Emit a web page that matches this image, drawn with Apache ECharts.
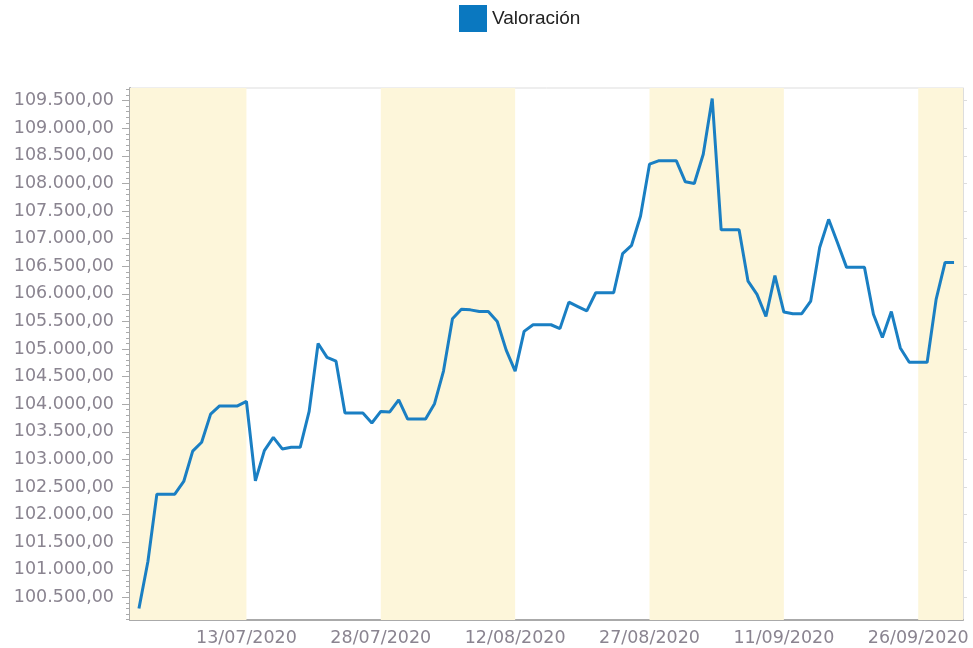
<!DOCTYPE html>
<html>
<head>
<meta charset="utf-8">
<script src="https://cdn.jsdelivr.net/npm/echarts@6/dist/echarts.min.js"></script>
<style>
  html, body { margin: 0; padding: 0; background: #fff; }
  #chart { width: 973px; height: 648px; }
</style>
</head>
<body>
<div id="chart"></div>
<script>
// daily values from 01/07/2020 to 30/09/2020
const startDay = [2020, 6, 1]
const valoracion = [
  100300, 101150, 102370, 102370, 102370, 102600, 103150, 103310, 103820, 103970,
  103970, 103970, 104050, 102610, 103160, 103400, 103190, 103220, 103220, 103870,
  105100, 104850, 104780, 103840, 103840, 103840, 103660, 103870, 103860, 104080,
  103730,
  103730, 103730, 104010, 104600, 105550, 105720, 105710, 105680, 105680, 105500,
  104980, 104600, 105320, 105440, 105440, 105440, 105370, 105850, 105770, 105690,
  106020, 106020, 106020, 106730, 106880, 107410, 108350, 108410, 108410, 108410,
  108030,
  108000, 108530, 109540, 107160, 107160, 107160, 106230, 105990, 105590, 106330,
  105670, 105640, 105640, 105870, 106840, 107350, 106920, 106480, 106480, 106480,
  105630, 105210, 105680, 105020, 104760, 104760, 104760, 105900, 106570, 106570
]

const xTickDates = [[2020, 6, 13], [2020, 6, 28], [2020, 7, 12], [2020, 7, 27], [2020, 8, 11], [2020, 8, 26]]
const bands = [
  [[2020, 5, 30], [2020, 6, 13]],
  [[2020, 6, 28], [2020, 7, 12]],
  [[2020, 7, 27], [2020, 8, 11]],
  [[2020, 8, 26], [2020, 9, 1]]
]
const yLabels = [100500, 101000, 101500, 102000, 102500, 103000, 103500, 104000, 104500,
  105000, 105500, 106000, 106500, 107000, 107500, 108000, 108500, 109000, 109500]
const yMin = 100090
const yMax = 109730

const ts = d => +new Date(d[0], d[1], d[2])

const seriesData = valoracion.map((v, i) =>
  [+new Date(startDay[0], startDay[1], startDay[2] + i), v])

const minorTicks = []
for (let v = 100100; v <= 109700; v += 100) minorTicks.push(v)

const fmtNum = v => {
  const s = String(Math.round(v))
  return s.slice(0, s.length - 3) + '.' + s.slice(-3) + ',00'
}
const pad = n => (n < 10 ? '0' : '') + n
const fmtDate = v => {
  const d = new Date(v)
  return pad(d.getDate()) + '/' + pad(d.getMonth() + 1) + '/' + d.getFullYear()
}

const labelStyle = { color: '#8a8490', fontFamily: 'DejaVu Sans', fontSize: 17.5 }

const chart = echarts.init(document.getElementById('chart'))
chart.setOption({
  animation: false,
  backgroundColor: '#fff',
  legend: {
    left: 454, top: 0,
    icon: 'rect', itemWidth: 28, itemHeight: 27, itemGap: 4,
    textStyle: { color: '#222', fontFamily: 'Liberation Sans', fontSize: 19 },
    data: ['Valoración']
  },
  grid: {
    left: 130, right: 10, top: 88, bottom: 28,
    show: true, borderColor: '#dddddd', borderWidth: 1
  },
  xAxis: {
    type: 'value',
    min: ts([2020, 5, 30]), max: ts([2020, 9, 1]),
    axisLine: { lineStyle: { color: '#aaaaaa', width: 2 } },
    axisTick: { show: false },
    splitLine: { show: false },
    axisLabel: Object.assign({
      customValues: xTickDates.map(ts),
      margin: 9,
      formatter: fmtDate
    }, labelStyle)
  },
  yAxis: [
    {
      type: 'value', min: yMin, max: yMax,
      axisLine: { show: true, lineStyle: { color: '#aaaaaa', width: 2 } },
      axisTick: { show: true, customValues: yLabels, length: 8, lineStyle: { color: '#aaaaaa' } },
      splitLine: { show: false },
      axisLabel: Object.assign({ customValues: yLabels, margin: 16, formatter: fmtNum }, labelStyle)
    },
    {
      type: 'value', min: yMin, max: yMax, position: 'left',
      axisLine: { show: false },
      axisTick: { show: true, customValues: minorTicks, length: 4, lineStyle: { color: '#aaaaaa' } },
      axisLabel: { show: false },
      splitLine: { show: false }
    },
    {
      type: 'value', min: yMin, max: yMax, position: 'right',
      axisLine: { show: true, lineStyle: { color: '#dddddd', width: 1 } },
      axisTick: { show: true, customValues: yLabels, length: 4, lineStyle: { color: '#dddddd' } },
      axisLabel: { show: false },
      splitLine: { show: false }
    }
  ],
  series: [{
    name: 'Valoración',
    type: 'line',
    data: seriesData,
    showSymbol: false,
    color: '#0a78c0',
    lineStyle: { width: 3, color: '#1a7fc3' },
    markArea: {
      silent: true,
      itemStyle: { color: '#fdf6da' },
      data: bands.map(b => [{ xAxis: ts(b[0]) }, { xAxis: ts(b[1]) }])
    }
  }]
})
</script>
</body>
</html>
